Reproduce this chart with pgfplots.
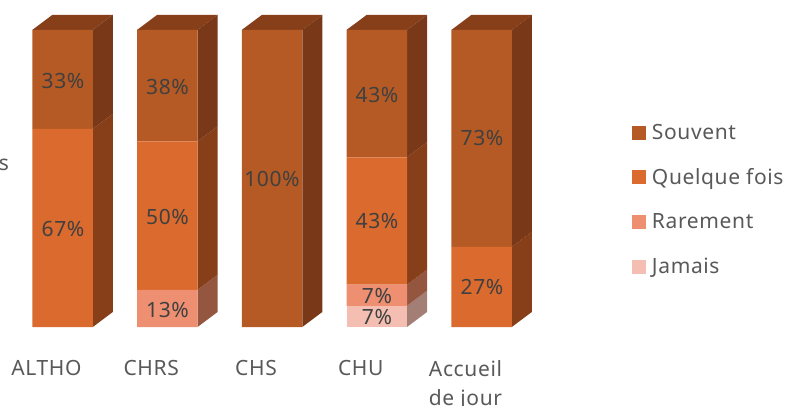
\documentclass[border=0pt]{standalone}
\usepackage{pgfplots}
\pgfplotsset{compat=1.18}
\usepackage{fontspec}
\setmainfont[LetterSpace=3]{Noto Sans}
\definecolor{souvent}{HTML}{B55A24}
\definecolor{quelque}{HTML}{DA6A2D}
\definecolor{rarement}{HTML}{EF8F72}
\definecolor{jamais}{HTML}{F4BFB2}
\definecolor{sidesouvent}{HTML}{793817}
\definecolor{sidequelque}{HTML}{873F19}
\definecolor{siderarement}{HTML}{955640}
\definecolor{sidejamais}{HTML}{A27E74}
\definecolor{tick}{HTML}{595959}
\definecolor{lab}{HTML}{404040}
% x in pixels of the reference, y in percent
\pgfplotsset{
  base/.style={
    at={(0,0)}, anchor=south west,
    scale only axis, width=785pt, height=327pt,
    xmin=0, xmax=785, ymin=0, ymax=110.1,
    clip=false,
  },
  face/.style={fill=#1, draw=none},
}
\pgfplotstableread{
x      jamais rarement quelque souvent
62.5   0      0        66.67   33.33
167.25 0      12.5     50      37.5
272    0      0        0       100
376.75 7.14   7.14     42.86   42.86
481.5  0      0        27      73
}\bars
\begin{document}
\begin{tikzpicture}
\path[use as bounding box] (0,-78pt) rectangle (785pt,327pt);
\clip (0,-78pt) rectangle (785pt,327pt);
% tops and right hand faces
\begin{axis}[base, hide axis]
  \addplot[face=sidequelque] coordinates {(32.25,100) (92.75,100) (112.75,105.05) (52.25,105.05)} --cycle;
  \addplot[face=sidequelque] coordinates {(137,100) (197.5,100) (217.5,105.05) (157,105.05)} --cycle;
  \addplot[face=sidequelque] coordinates {(241.75,100) (302.25,100) (322.25,105.05) (261.75,105.05)} --cycle;
  \addplot[face=sidequelque] coordinates {(346.5,100) (407,100) (427,105.05) (366.5,105.05)} --cycle;
  \addplot[face=sidequelque] coordinates {(451.25,100) (511.75,100) (531.75,105.05) (471.25,105.05)} --cycle;
  % ALTHO
  \addplot[face=sidequelque] coordinates {(92.75,0) (112.75,5.05) (112.75,71.72) (92.75,66.67)} --cycle;
  \addplot[face=sidesouvent] coordinates {(92.75,66.67) (112.75,71.72) (112.75,105.05) (92.75,100)} --cycle;
  % CHRS
  \addplot[face=siderarement] coordinates {(197.5,0) (217.5,5.05) (217.5,17.55) (197.5,12.5)} --cycle;
  \addplot[face=sidequelque] coordinates {(197.5,12.5) (217.5,17.55) (217.5,67.55) (197.5,62.5)} --cycle;
  \addplot[face=sidesouvent] coordinates {(197.5,62.5) (217.5,67.55) (217.5,105.05) (197.5,100)} --cycle;
  % CHS
  \addplot[face=sidesouvent] coordinates {(302.25,0) (322.25,5.05) (322.25,105.05) (302.25,100)} --cycle;
  % CHU
  \addplot[face=sidejamais] coordinates {(407,0) (427,5.05) (427,12.19) (407,7.14)} --cycle;
  \addplot[face=siderarement] coordinates {(407,7.14) (427,12.19) (427,19.33) (407,14.28)} --cycle;
  \addplot[face=sidequelque] coordinates {(407,14.28) (427,19.33) (427,62.19) (407,57.14)} --cycle;
  \addplot[face=sidesouvent] coordinates {(407,57.14) (427,62.19) (427,105.05) (407,100)} --cycle;
  % Accueil de jour
  \addplot[face=sidequelque] coordinates {(511.75,0) (531.75,5.05) (531.75,32.05) (511.75,27)} --cycle;
  \addplot[face=sidesouvent] coordinates {(511.75,27) (531.75,32.05) (531.75,105.05) (511.75,100)} --cycle;
\end{axis}
% front faces, category names, legend
\begin{axis}[base,
    ybar stacked, bar width=60.5pt,
    axis line style={draw=none}, major tick length=0pt,
    ytick=\empty,
    xtick={62.5,167.25,272,376.75,481.5},
    xticklabels={ALTHO,CHRS,CHS,CHU,{Accueil\\de jour}},
    xticklabel style={align=center, font=\fontsize{21}{29}\selectfont, text=tick, xshift=-16pt, yshift=-30pt},
    reverse legend,
    legend style={draw=none, fill=none, at={(0.801,0.633)}, anchor=north west,
      font=\fontsize{21}{24}\selectfont, text=tick, row sep=23.7pt,
      /tikz/every even column/.append style={column sep=0pt}},
    legend cell align=left,
    legend image code/.code={\fill[#1] (0pt,-7pt) rectangle (14pt,7pt); \path (18pt,0pt);},
  ]
  \addplot[face=jamais] table[y=jamais] {\bars};
  \addplot[face=rarement] table[y=rarement] {\bars};
  \addplot[face=quelque] table[y=quelque] {\bars};
  \addplot[face=souvent] table[y=souvent] {\bars};
  \legend{Jamais,Rarement,Quelque fois,Souvent}
\end{axis}
% value labels
\begin{axis}[base, hide axis,
    point meta=explicit symbolic,
    nodes near coords,
    every node near coord/.style={anchor=center, font=\fontsize{21}{24}\selectfont, text=lab},
  ]
  \addplot[only marks, mark=none] coordinates {
    (63,82.9)[33\%] (63,33)[67\%]
    (167.5,80.9)[38\%] (167.5,37.2)[50\%] (167.5,5.8)[13\%]
    (272,50)[100\%]
    (377,78.2)[43\%] (377,35.7)[43\%] (377,10.5)[7\%] (377,3.4)[7\%]
    (482,63.5)[73\%] (482,13.3)[27\%]
  };
  \node[anchor=center, font=\fontsize{21}{24}\selectfont, text=tick] at (axis cs:4,54.7) {s};
\end{axis}
\end{tikzpicture}
\end{document}
